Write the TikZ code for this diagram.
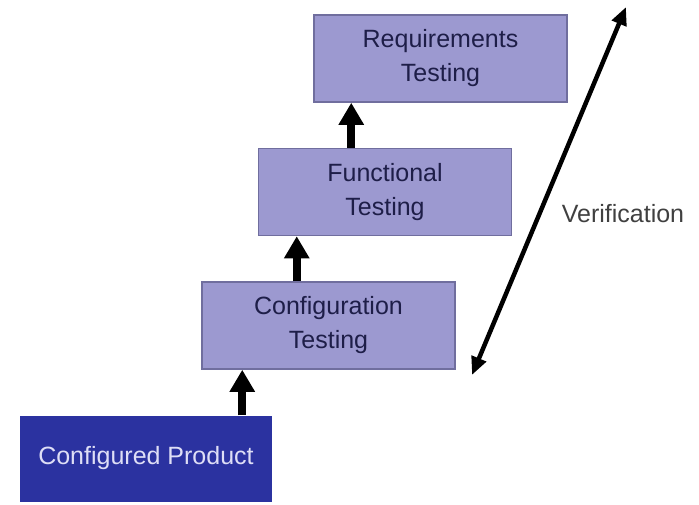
\documentclass[tikz,border=0pt]{standalone}
\usepackage{fontspec}
\setmainfont{Liberation Sans}
\usetikzlibrary{arrows.meta,positioning}
\definecolor{boxfill}{RGB}{156,153,208}
\definecolor{boxline}{RGB}{112,110,158}
\definecolor{boxtext}{RGB}{30,30,72}
\definecolor{prodfill}{RGB}{43,50,160}
\definecolor{prodtext}{RGB}{222,222,246}
\tikzset{
    stage/.style={draw=boxline,line width=1.5pt,fill=boxfill,text=boxtext,align=center,
        minimum width=253pt,minimum height=87pt,inner sep=0pt,font=\fontsize{25}{34}\selectfont},
    product/.style={fill=prodfill,text=prodtext,minimum width=252pt,minimum height=86pt,
        inner sep=0pt,font=\fontsize{25}{30}\selectfont},
    up/.style={line width=8pt,-{Triangle[length=22pt,width=24pt]}},
    verif/.style={line width=4.5pt,{Triangle[length=18pt,width=15pt]}-{Triangle[length=18pt,width=15pt]}}
}

\begin{document}
\begin{tikzpicture}[x=1pt,y=-1pt]
            \useasboundingbox (0,0) rectangle (699,504);
            \node[product](cp) at (146,458.5){Configured Product};
            \foreach \nm/\x/\y/\t in {ct/328.5/325.5/Configuration\\Testing,ft/385/192/Functional\\Testing,rt/440.5/58.5/Requirements\\Testing}
            {
                \node[stage](\nm) at (\x,\y){\t};
            }
            \foreach \lo/\hi/\d in {cp/ct/41,ct/ft/39,ft/rt/38}
            {
                \coordinate (\hi-in) at ([xshift=\d pt]\hi.south west);
                \draw[up](\lo.north -| \hi-in) -- (\hi-in);
            }
            \coordinate (vlo) at (472,375);
            \coordinate (vhi) at (626,7);
            \draw[verif](vlo) -- (vhi);
            \node[text=black!75,font=\fontsize{25}{30}\selectfont](vl) at (623,214){Verification};
        \end{tikzpicture}
\end{document}
